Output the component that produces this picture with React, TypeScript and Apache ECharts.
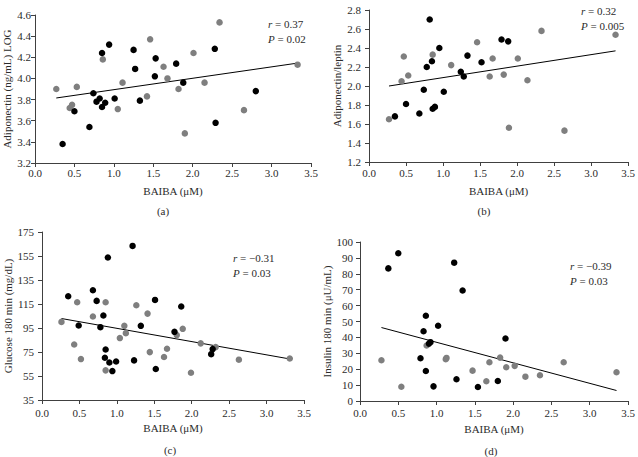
import React, { useEffect, useRef } from "react";
import * as echarts from "echarts";

// ---------- data ----------
const xTickValues = [0, 0.5, 1.0, 1.5, 2.0, 2.5, 3.0, 3.5];

// (a) Adiponectin (ng/mL) LOG
const aBlack = [
  [0.35, 3.38], [0.5, 3.69], [0.69, 3.54], [0.74, 3.86], [0.78, 3.78], [0.82, 3.81],
  [0.85, 4.24], [0.85, 3.73], [0.89, 3.77], [0.94, 4.32], [1.01, 3.81], [1.25, 4.27],
  [1.27, 4.09], [1.33, 3.79], [1.52, 4.02], [1.53, 4.19], [1.79, 4.14], [1.88, 3.96],
  [2.28, 4.28], [2.29, 3.58], [2.8, 3.88],
];
const aGray = [
  [0.27, 3.9], [0.44, 3.72], [0.47, 3.75], [0.53, 3.92], [0.86, 4.18], [1.05, 3.71],
  [1.11, 3.96], [1.42, 3.83], [1.46, 4.37], [1.63, 4.11], [1.68, 4.0], [1.82, 3.9],
  [1.9, 3.48], [2.01, 4.24], [2.15, 3.96], [2.34, 4.53], [2.65, 3.7], [3.33, 4.13],
];
const aTrend = [[0.27, 3.815], [3.33, 4.145]];

// (b) Adiponectin/leptin
const bBlack = [
  [0.35, 1.68], [0.5, 1.81], [0.68, 1.71], [0.74, 1.96], [0.78, 2.2], [0.82, 2.7],
  [0.85, 2.26], [0.86, 1.76], [0.89, 1.78], [0.95, 2.4], [1.01, 1.94], [1.24, 2.15],
  [1.28, 2.1], [1.33, 2.32], [1.52, 2.25], [1.79, 2.49], [1.88, 2.47],
];
const bGray = [
  [0.27, 1.65], [0.44, 2.05], [0.47, 2.31], [0.53, 2.11], [0.86, 2.33], [1.11, 2.22],
  [1.46, 2.46], [1.63, 2.1], [1.67, 2.29], [1.82, 2.12], [1.89, 1.56], [2.01, 2.29],
  [2.14, 2.06], [2.33, 2.58], [2.64, 1.53], [3.33, 2.54],
];
const bTrend = [[0.27, 2.0], [3.33, 2.37]];

// (c) Glucose 180 min (mg/dL)
const cBlack = [
  [0.35, 121.5], [0.49, 97.1], [0.68, 126.5], [0.73, 117.6], [0.78, 95.7], [0.82, 105.4],
  [0.85, 77.1], [0.84, 70.2], [0.88, 153.7], [0.9, 66.3], [0.94, 59.1], [0.99, 67.1],
  [1.21, 163.4], [1.23, 68.0], [1.32, 96.8], [1.51, 118.4], [1.52, 60.8], [1.77, 91.8],
  [1.86, 112.9], [2.26, 73.2], [2.28, 77.4],
];
const cGray = [
  [0.26, 100.1], [0.43, 81.3], [0.47, 116.5], [0.52, 69.1], [0.68, 104.6], [0.85, 116.5],
  [0.85, 59.7], [1.04, 86.6], [1.1, 96.8], [1.12, 90.7], [1.26, 114], [1.41, 107],
  [1.44, 74.9], [1.63, 70.8], [1.67, 77.7], [1.8, 89.1], [1.88, 94.3], [1.99, 57.7],
  [2.12, 82.2], [2.32, 79.1], [2.63, 68.6], [3.31, 69.6],
];
const cTrend = [[0.26, 102.9], [3.31, 69.2]];
const cTicks = [35, 55, 75, 95, 115, 135, 155, 175];

// (d) Insulin 180 min (µU/mL)
const dBlack = [
  [0.37, 83.4], [0.5, 92.9], [0.79, 26.9], [0.83, 43.9], [0.86, 53.6], [0.86, 18.9],
  [0.9, 36.1], [0.92, 37.0], [0.96, 9.2], [1.02, 47.3], [1.23, 87.0], [1.26, 13.7],
  [1.34, 69.5], [1.54, 8.8], [1.8, 12.6], [1.9, 39.3],
];
const dGray = [
  [0.28, 25.6], [0.54, 9.0], [0.87, 34.9], [1.12, 26.3], [1.13, 27.1], [1.47, 19.1],
  [1.65, 12.4], [1.69, 24.4], [1.83, 27.3], [1.91, 21.2], [2.02, 22.1], [2.16, 15.3],
  [2.35, 16.2], [2.66, 24.4], [3.35, 18.1],
];
const dTrend = [[0.28, 46.2], [3.35, 6.6]];

const rValues = ["0.37", "0.32", "\u22120.31", "\u22120.39"];
const pValues = ["0.02", "0.005", "0.03", "0.03"];
const yNames = [
  "Adiponectin (ng/mL) LOG",
  "Adiponectin/leptin",
  "Glucose 180 min (mg/dL)",
  "Insulin 180 min (\u03bcU/mL)",
];
const panelLabels = ["(a)", "(b)", "(c)", "(d)"];
const xName = "BAIBA (\u03bcM)";

// ---------- component ----------
const FONT = '"Liberation Serif", "DejaVu Serif", "Times New Roman", serif';
const AXIS_COLOR = "#404040";
const TEXT_COLOR = "#2b2b2b";

export default function App() {
  const ref = useRef<HTMLDivElement>(null);

  useEffect(() => {
    document.body.style.margin = "0";
    if (!ref.current) return;
    const chart = echarts.init(ref.current, null, { renderer: "svg" });

    const panels = [
      { black: aBlack, gray: aGray, trend: aTrend, ymin: 3.2, ymax: 4.6, yint: 0.2, dec: 1,
        grid: { left: 35, top: 15, width: 276, height: 148 }, yGap: 23, xGap: 22,
        xm: 4, ym: 4, rp: [268, 16], lab: [163, 211] },
      { black: bBlack, gray: bGray, trend: bTrend, ymin: 1.2, ymax: 2.8, yint: 0.2, dec: 1,
        grid: { left: 369, top: 10, width: 263, height: 152 }, yGap: 27, xGap: 23,
        xm: 5, ym: 8, rp: [581, 3], lab: [484, 211] },
      { black: cBlack, gray: cGray, trend: cTrend, ymin: 35, ymax: 175, yint: 20, dec: 0,
        custom: cTicks,
        grid: { left: 42, top: 232, width: 262, height: 168 }, yGap: 28, xGap: 22,
        xm: 7, ym: 8, rp: [233, 250], lab: [170, 450] },
      { black: dBlack, gray: dGray, trend: dTrend, ymin: 0, ymax: 100, yint: 10, dec: 0,
        grid: { left: 360, top: 242, width: 268, height: 159 }, yGap: 24, xGap: 22,
        xm: 6, ym: 7, rp: [570, 258], lab: [491, 451] },
    ];

    const textStyle = { fontFamily: FONT, fontSize: 11, color: TEXT_COLOR };

    const grids: any[] = [];
    const xAxes: any[] = [];
    const yAxes: any[] = [];
    const series: any[] = [];
    const graphics: any[] = [];

    panels.forEach((p, i) => {
      grids.push({ ...p.grid, containLabel: false });
      xAxes.push({
        type: "value",
        gridIndex: i,
        min: 0,
        max: 3.5,
        interval: 0.5,
        name: xName,
        nameLocation: "middle",
        nameGap: p.xGap,
        nameTextStyle: textStyle,
        axisLine: { show: true, lineStyle: { color: AXIS_COLOR, width: 1 } },
        axisTick: { show: true, inside: false, length: 4, lineStyle: { color: AXIS_COLOR } },
        axisLabel: {
          ...textStyle,
          margin: p.xm,
          formatter: (v: number) => v.toFixed(1),
          customValues: xTickValues,
        },
        splitLine: { show: false },
      });
      const yAxis: any = {
        type: "value",
        gridIndex: i,
        min: p.ymin,
        max: p.ymax,
        name: yNames[i],
        nameLocation: "middle",
        nameGap: p.yGap,
        nameTextStyle: textStyle,
        axisLine: { show: true, lineStyle: { color: AXIS_COLOR, width: 1 } },
        axisTick: { show: true, inside: false, length: 4, lineStyle: { color: AXIS_COLOR } },
        axisLabel: {
          ...textStyle,
          margin: p.ym,
          formatter: (v: number) => v.toFixed(p.dec),
        },
        splitLine: { show: false },
      };
      if (p.custom) {
        yAxis.axisLabel.customValues = p.custom;
        yAxis.axisTick.customValues = p.custom;
      } else {
        yAxis.interval = p.yint;
      }
      yAxes.push(yAxis);

      series.push({
        type: "line",
        xAxisIndex: i,
        yAxisIndex: i,
        data: p.trend,
        showSymbol: false,
        symbol: "none",
        lineStyle: { color: "#000", width: 1 },
        z: 1,
      });
      series.push({
        type: "scatter",
        xAxisIndex: i,
        yAxisIndex: i,
        data: p.gray,
        symbolSize: 6.5,
        itemStyle: { color: "#7f7f7f", opacity: 1 },
        z: 2,
      });
      series.push({
        type: "scatter",
        xAxisIndex: i,
        yAxisIndex: i,
        data: p.black,
        symbolSize: 6.5,
        itemStyle: { color: "#000000", opacity: 1 },
        z: 3,
      });

      graphics.push({
        type: "text",
        left: p.rp[0],
        top: p.rp[1],
        style: {
          text: `{i|r} = ${rValues[i]}\n{i|P} = ${pValues[i]}`,
          font: `11px ${FONT}`,
          fill: TEXT_COLOR,
          lineHeight: 15,
          rich: {
            i: { fontStyle: "italic", fontFamily: FONT, fontSize: 11, fill: TEXT_COLOR, lineHeight: 15 },
          },
        },
      });
      graphics.push({
        type: "text",
        x: p.lab[0],
        y: p.lab[1],
        style: {
          text: panelLabels[i],
          font: `11px ${FONT}`,
          fill: TEXT_COLOR,
          align: "center",
          verticalAlign: "middle",
        },
      });
    });

    chart.setOption({
      animation: false,
      backgroundColor: "#ffffff",
      textStyle: { fontFamily: FONT },
      grid: grids,
      xAxis: xAxes,
      yAxis: yAxes,
      series,
      graphic: graphics,
    });

    return () => {
      chart.dispose();
    };
  }, []);

  return <div ref={ref} style={{ width: 638, height: 457 }} />;
}
